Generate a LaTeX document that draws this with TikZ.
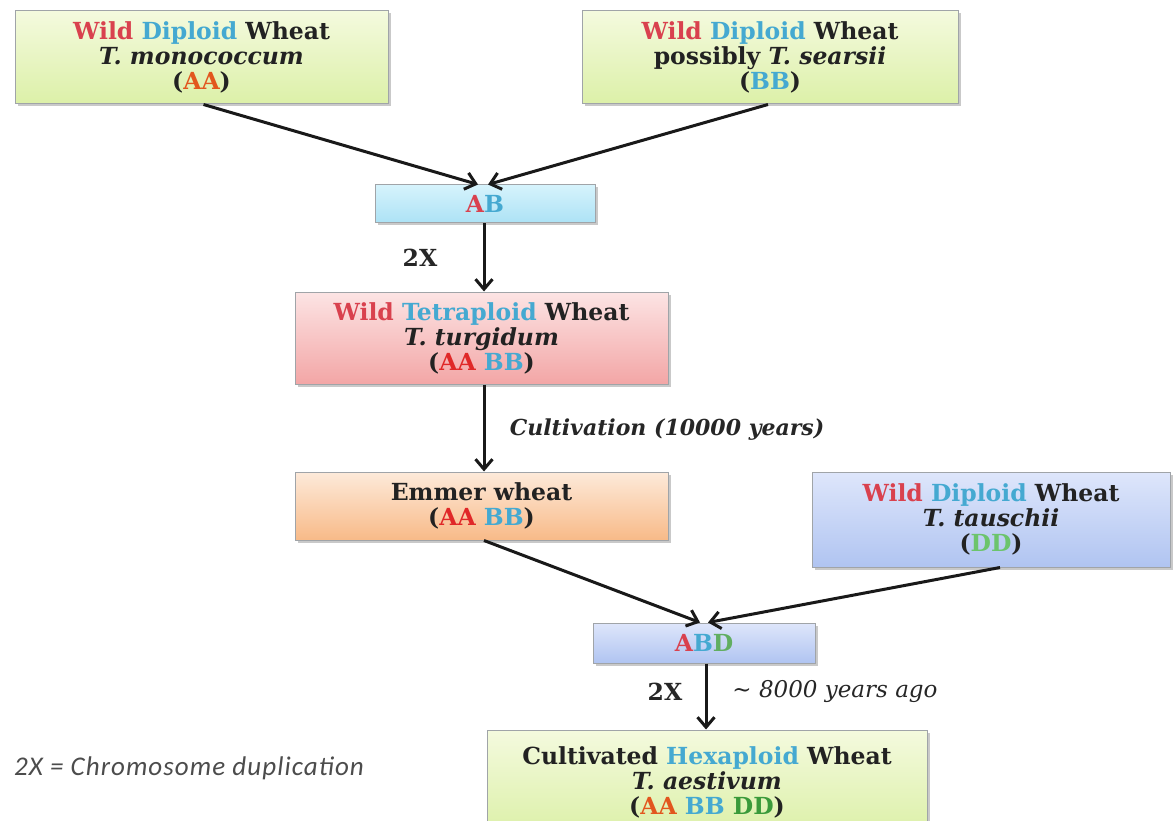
\documentclass[tikz,border=0pt]{standalone}
\usepackage{fontspec}
\setmainfont{DejaVu Serif}
\newfontfamily\notefont[LetterSpace=4]{Carlito}
\usetikzlibrary{shadows,arrows.meta}

\definecolor{cwild}{HTML}{D9414E}
\definecolor{cploid}{HTML}{45A9D1}
\definecolor{ctext}{HTML}{222222}
\definecolor{corange}{HTML}{E2561E}
\definecolor{cred}{HTML}{E02828}
\definecolor{cgreen}{HTML}{6CC46C}
\definecolor{cdgreen}{HTML}{3A9A3A}
\definecolor{edge}{HTML}{A0A4A8}

\tikzset{
  genome/.style={draw=edge, line width=1pt, align=center, text=ctext,
    font=\bfseries\fontsize{23.5}{25}\selectfont, inner sep=0pt,
    drop shadow={shadow xshift=2.5pt, shadow yshift=-2.5pt, opacity=0.35, fill=black!60}},
  greenbox/.style={genome, top color={rgb,255:red,244;green,250;blue,222}, bottom color={rgb,255:red,220;green,240;blue,168}},
  cyanbox/.style={genome, top color={rgb,255:red,214;green,243;blue,252}, bottom color={rgb,255:red,172;green,226;blue,245}},
  pinkbox/.style={genome, top color={rgb,255:red,252;green,228;blue,228}, bottom color={rgb,255:red,243;green,166;blue,166}},
  orangebox/.style={genome, top color={rgb,255:red,253;green,234;blue,218}, bottom color={rgb,255:red,248;green,186;blue,136}},
  bluebox/.style={genome, top color={rgb,255:red,222;green,230;blue,251}, bottom color={rgb,255:red,176;green,196;blue,241}},
  link/.style={line width=3pt, draw=black!90, -{Straight Barb[length=10pt,width=17pt,line width=3pt]}},
  steplabel/.style={font=\bfseries\fontsize{23.5}{25}\selectfont, text=black!85},
  timelabel/.style={font=\bfseries\itshape\fontsize{22}{25}\selectfont, text=black!85}
}

\begin{document}
\begin{tikzpicture}[x=1pt,y=-1pt]
\useasboundingbox[fill=white] (0,0) rectangle (1175,821);

% parent diploids
\node[greenbox, minimum width=373pt, minimum height=93pt] (mono) at (201.5,57.5)
  {\textcolor{cwild}{Wild} \textcolor{cploid}{Diploid} Wheat\\ \textit{T. monococcum}\\ (\textcolor{corange}{AA})};
\node[greenbox, minimum width=376pt, minimum height=93pt] (sear) at (770,57.5)
  {\textcolor{cwild}{Wild} \textcolor{cploid}{Diploid} Wheat\\ possibly \textit{T. searsii}\\ (\textcolor{cploid}{BB})};

% first hybrid and tetraploid
\node[cyanbox, minimum width=220pt, minimum height=38pt] (ab) at (485,204)
  {\textcolor{cwild}{A}\textcolor{cploid}{B}};
\node[pinkbox, minimum width=373pt, minimum height=92pt] (tetra) at (481.5,338)
  {\textcolor{cwild}{Wild} \textcolor{cploid}{Tetraploid} Wheat\\ \textit{T. turgidum}\\ (\textcolor{cred}{AA} \textcolor{cploid}{BB})};
\node[orangebox, minimum width=373pt, minimum height=68pt] (emmer) at (481.5,506)
  {Emmer wheat\\ (\textcolor{cred}{AA} \textcolor{cploid}{BB})};

% third diploid
\node[bluebox, minimum width=358pt, minimum height=95pt] (tau) at (991,519.5)
  {\textcolor{cwild}{Wild} \textcolor{cploid}{Diploid} Wheat\\ \textit{T. tauschii}\\ (\textcolor{cgreen}{DD})};

% second hybrid and hexaploid
\node[bluebox, minimum width=222pt, minimum height=40pt] (abd) at (704,643)
  {\textcolor{cwild}{A}\textcolor{cploid}{B}\textcolor{cdgreen!80}{D}};
\node[greenbox, minimum width=440pt, minimum height=104pt] (hexa) at (707,782)
  {Cultivated \textcolor{cploid}{Hexaploid} Wheat\\ \textit{T. aestivum}\\ (\textcolor{corange}{AA} \textcolor{cploid}{BB} \textcolor{cdgreen}{DD})};

% connectors
\draw[link] ([xshift=2pt]mono.south) -- ([xshift=-7pt]ab.north);
\draw[link] ([xshift=-2pt]sear.south) -- ([xshift=3pt]ab.north);
\draw[link] ([xshift=-1pt]ab.south) -- ([xshift=2.5pt]tetra.north);
\draw[link] ([xshift=2.5pt]tetra.south) -- ([xshift=2.5pt]emmer.north);
\draw[link] ([xshift=2.5pt]emmer.south) -- ([xshift=-4pt]abd.north);
\draw[link] ([xshift=9pt]tau.south) -- ([xshift=4pt]abd.north);
\draw[link] ([xshift=2pt]abd.south) -- ([xshift=-1pt]hexa.north);

% arrow labels
\node[steplabel] (dupa) at (420,258) {2X};
\node[timelabel] (cult) at (667,430) {Cultivation (10000 years)};
\node[steplabel] (dupb) at (665,692) {2X};
\node[timelabel, font=\itshape\fontsize{23}{25}\selectfont] (ago) at (835,692) {\textasciitilde\ 8000 years ago};

% legend
\node[font=\notefont\itshape\fontsize{27}{30}\selectfont, text=black!70] (legend) at (189,768) {2X = Chromosome duplication};
\end{tikzpicture}
\end{document}
